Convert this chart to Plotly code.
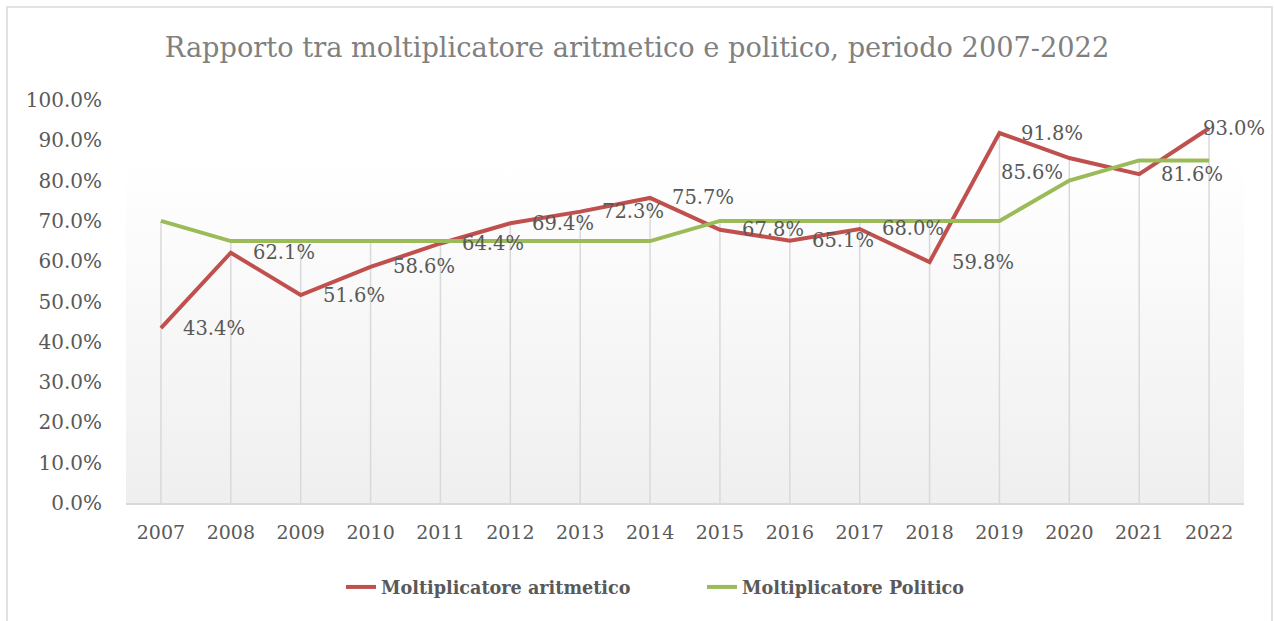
import plotly.graph_objects as go

years = list(range(2007, 2023))
aritmetico = [43.4, 62.1, 51.6, 58.6, 64.4, 69.4, 72.3, 75.7, 67.8, 65.1, 68.0, 59.8, 91.8, 85.6, 81.6, 93.0]
politico = [70, 65, 65, 65, 65, 65, 65, 65, 70, 70, 70, 70, 70, 80, 85, 85]
y_ticks = [0, 10, 20, 30, 40, 50, 60, 70, 80, 90, 100]

title_text = "Rapporto tra moltiplicatore aritmetico e politico, periodo 2007-2022"
name_a = "Moltiplicatore aritmetico"
name_p = "Moltiplicatore Politico"

FONT = "DejaVu Serif"
RED = "#c0504d"
GREEN = "#9bbb59"
GRID = "#d9d9d9"
TXT = "#595959"

W, H = 1274, 621
L, R, T, B = 126, 30, 100, 118

fig = go.Figure()

# plot-area gradient background
x0, x1 = years[0] - 0.5, years[-1] + 0.5
fig.add_trace(go.Scatter(
    x=[x0, x1, x1, x0, x0], y=[0, 0, 100, 100, 0],
    mode="lines", line=dict(width=0), fill="toself",
    fillgradient=dict(type="vertical",
                      colorscale=[[0, "#efefef"], [0.85, "#ffffff"], [1, "#ffffff"]]),
    hoverinfo="skip", showlegend=False))

# drop lines from the highest series value to the axis
dx, dy = [], []
for yr, a, p in zip(years, aritmetico, politico):
    dx += [yr, yr, None]
    dy += [0, max(a, p), None]
fig.add_trace(go.Scatter(x=dx, y=dy, mode="lines",
                         line=dict(color=GRID, width=1.5),
                         hoverinfo="skip", showlegend=False))

fig.add_trace(go.Scatter(x=years, y=aritmetico, mode="lines", name=name_a,
                         line=dict(color=RED, width=4, shape="linear")))
fig.add_trace(go.Scatter(x=years, y=politico, mode="lines", name=name_p,
                         line=dict(color=GREEN, width=4, shape="linear")))

# label placement (Excel moved a couple of labels to avoid overlaps/clipping)
label_place = {2020: ("right", -4, -14), 2022: ("left", -8, 0)}
for yr, a in zip(years, aritmetico):
    anchor, xs, ys = label_place.get(yr, ("left", 20, 0))
    fig.add_annotation(x=yr, y=a, text=f"{a:.1f}%", showarrow=False,
                       xanchor=anchor, yanchor="middle", xshift=xs, yshift=ys,
                       font=dict(family=FONT, size=19.5, color=TXT))

# outer chart border
pw, ph = W - L - R, H - T - B
fig.add_shape(type="rect", xref="paper", yref="paper",
              x0=(7 - L) / pw, x1=(1272 - L) / pw,
              y0=(H - B - 640) / ph, y1=(H - B - 7) / ph,
              line=dict(color=GRID, width=1.5), fillcolor="rgba(0,0,0,0)", layer="below")

fig.update_layout(
    width=W, height=H,
    margin=dict(l=L, r=R, t=T, b=B, autoexpand=False),
    paper_bgcolor="white", plot_bgcolor="rgba(0,0,0,0)",
    title=dict(text=title_text, x=0.5, xref="container", xanchor="center",
               y=1 - 47 / H, yref="container", yanchor="middle",
               font=dict(family=FONT, size=27.2, color="#808080")),
    font=dict(family=FONT, color=TXT),
    showlegend=True,
    legend=dict(orientation="h", x=(702 - L) / pw, xanchor="center",
                y=(H - B - 587) / ph, yanchor="middle",
                font=dict(family=FONT, size=17.6, color=TXT, weight="bold"),
                bgcolor="rgba(0,0,0,0)", tracegroupgap=0,
                entrywidth=316, entrywidthmode="pixels"),
    xaxis=dict(range=[x0, x1], tickvals=years, ticktext=[str(y) for y in years],
               showgrid=False, zeroline=False, showline=True, linecolor=GRID, linewidth=1.5,
               ticks="", tickfont=dict(family=FONT, size=19, color=TXT),
               ticklabelstandoff=11, fixedrange=True),
    yaxis=dict(range=[0, 100], tickvals=y_ticks,
               ticktext=[f"{v:.1f}%" for v in y_ticks],
               showgrid=False, zeroline=False, showline=False, ticks="",
               tickfont=dict(family=FONT, size=20, color=TXT),
               ticklabelstandoff=23, fixedrange=True),
)

fig.write_html("out.html", config={"displayModeBar": False},
               post_script="document.body.style.margin='0';")
